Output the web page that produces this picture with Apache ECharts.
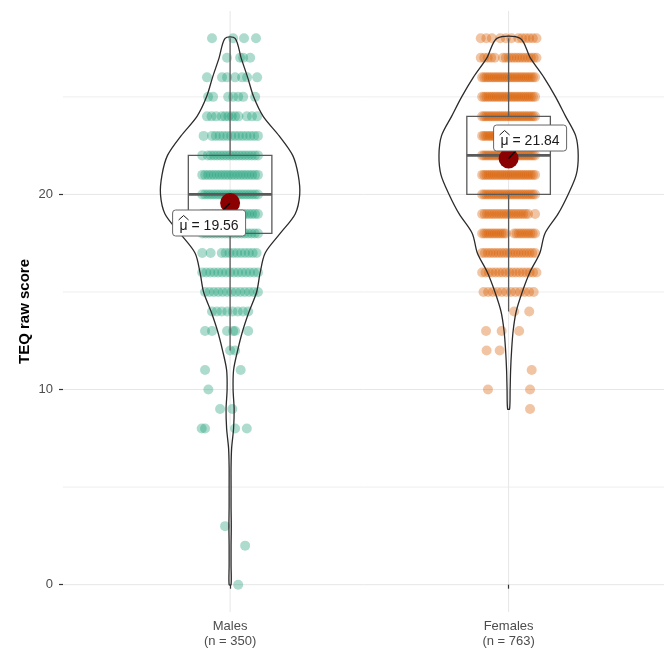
<!DOCTYPE html>
<html>
<head>
<meta charset="utf-8">
<script src="https://cdn.jsdelivr.net/npm/echarts@6/dist/echarts.min.js"></script>
<style>
  html, body { margin: 0; padding: 0; background: #fff; }
  #chart { width: 664px; height: 649px; }
</style>
</head>
<body>
<div id="chart"></div>
<script>
// groups and summary numbers
var groups = ['Males', 'Females'];
var groupN = [350, 763];
var meanValues = [19.56, 21.84];
// lower whisker, q1, median, q3, upper whisker
var boxStats = [
  [12, 18, 20, 22, 28],
  [14, 20, 22, 24, 28]
];

// violin width (relative density) at each score 0..28
var maleDensity = [0.014, 0.014, 0.014, 0.017, 0.014, 0.014, 0.014, 0.022, 0.05, 0.058,
  0.043, 0.05, 0.108, 0.18, 0.273, 0.381, 0.432, 0.504, 0.719, 0.935,
  1.0, 0.978, 0.899, 0.705, 0.475, 0.338, 0.252, 0.158, 0.072];
var femaleDensity = [null, null, null, null, null, null, null, null, null, 0.014,
  0.022, 0.029, 0.043, 0.065, 0.109, 0.196, 0.304, 0.449, 0.522, 0.71,
  0.855, 0.971, 1.0, 0.964, 0.819, 0.674, 0.507, 0.312, 0.167];

// jittered points: [score, offset | [from, to, count], ...]
var maleRows = [
  [28, -0.065, 0.011, 0.05, 0.093],
  [27, -0.011, 0.036, 0.047, 0.072],
  [26, -0.083, -0.029, -0.011, 0.018, 0.043, 0.061, 0.097],
  [25, -0.079, -0.061, -0.007, 0.011, 0.029, 0.047, 0.09],
  [24, [-0.083, -0.05, 3], [-0.03, 0.03, 6], [0.06, 0.097, 3]],
  [23, -0.095, [-0.065, 0.1, 13]],
  [22, -0.1, [-0.08, 0.1, 17]],
  [21, [-0.1, 0.1, 20]],
  [20, [-0.1, 0.1, 21]],
  [19, [-0.1, 0.1, 20]],
  [18, [-0.1, 0.1, 18]],
  [17, -0.1, -0.07, [-0.03, 0.095, 10]],
  [16, [-0.1, 0.1, 15]],
  [15, [-0.09, 0.1, 13]],
  [14, [-0.065, -0.03, 3], [-0.01, 0.065, 5]],
  [13, -0.09, -0.065, -0.011, 0.011, 0.018, 0.065],
  [12, 0, 0.018],
  [11, -0.09, 0.038],
  [10, -0.078],
  [9, -0.036, 0.008],
  [8, -0.102, -0.09, 0.018, 0.06],
  [3, -0.018],
  [2, 0.054],
  [0, 0.029]
];
var femaleRows = [
  [28, [-0.1, -0.06, 3], [-0.03, 0.01, 3], [0.035, 0.1, 6]],
  [27, [-0.1, -0.05, 5], [-0.02, 0.1, 13]],
  [26, [-0.095, 0.095, 26]],
  [25, [-0.095, 0.095, 26]],
  [24, [-0.095, 0.095, 28]],
  [23, [-0.095, 0.095, 28]],
  [22, [-0.095, 0.095, 28]],
  [21, [-0.095, 0.095, 26]],
  [20, [-0.095, 0.095, 26]],
  [19, [-0.095, 0.07, 20], 0.095],
  [18, [-0.095, -0.01, 12], [0.02, 0.095, 10]],
  [17, [-0.095, 0.095, 20]],
  [16, [-0.095, 0.1, 17]],
  [15, [-0.09, 0.09, 12]],
  [14, 0.02, 0.074],
  [13, -0.081, -0.025, 0.038],
  [12, -0.079, -0.032],
  [11, 0.083],
  [10, -0.074, 0.077],
  [9, 0.077]
];

var yTickValues = [0, 10, 20];
var yGridValues = [0, 5, 10, 15, 20, 25];

// styles
var pointColors = ['rgba(27,158,119,0.45)', 'rgba(217,95,2,0.45)'];
var violinHalf = 0.25;
var boxHalf = 0.15;
var labelNudge = [[-21, 20], [21.5, -20.5]];
var fontFam = '"Liberation Sans", Arial, sans-serif';
var labelFont = '14px ' + fontFam;

var measureCtx = document.createElement('canvas').getContext('2d');
function textWidth(str) {
  measureCtx.font = labelFont;
  return measureCtx.measureText(str).width;
}

function buildPoints(rows, pos) {
  var pts = [];
  rows.forEach(function (row) {
    var score = row[0];
    for (var i = 1; i < row.length; i++) {
      var it = row[i];
      if (Array.isArray(it)) {
        var n = it[2];
        for (var k = 0; k < n; k++) {
          var off = n === 1 ? it[0] : it[0] + (it[1] - it[0]) * k / (n - 1);
          pts.push([pos + off, score]);
        }
      } else {
        pts.push([pos + it, score]);
      }
    }
  });
  return pts;
}

var densities = [maleDensity, femaleDensity];
var chart = echarts.init(document.getElementById('chart'));

var option = {
  animation: false,
  grid: { left: 63, right: 0, top: 11, bottom: 36 },
  xAxis: {
    type: 'value',
    min: 0.4,
    max: 2.558,
    axisLine: { show: false },
    axisTick: { show: true, customValues: [1, 2], length: 4, lineStyle: { color: '#333', width: 1.2 } },
    axisLabel: {
      customValues: [1, 2],
      margin: 7,
      color: '#4d4d4d',
      fontSize: 13,
      lineHeight: 15,
      fontFamily: fontFam,
      formatter: function (v) {
        var i = Math.round(v) - 1;
        return groups[i] + '\n(n = ' + groupN[i] + ')';
      }
    },
    splitLine: { show: false }
  },
  yAxis: {
    type: 'value',
    min: -1.4,
    max: 29.4,
    name: 'TEQ raw score',
    nameLocation: 'middle',
    nameGap: 31,
    nameMoveOverlap: false,
    nameTextStyle: { color: '#000', fontSize: 15, fontWeight: 'bold', fontFamily: fontFam },
    axisLine: { show: false },
    axisTick: { show: true, customValues: yTickValues, length: 4, lineStyle: { color: '#333', width: 1.2 } },
    axisLabel: { customValues: yTickValues, margin: 10, color: '#4d4d4d', fontSize: 13, fontFamily: fontFam },
    splitLine: { show: false }
  },
  series: [
    {
      // grid lines
      type: 'custom',
      z: 0,
      silent: true,
      data: yGridValues.map(function (v) { return [0, v]; }).concat([[1, 1], [1, 2]]),
      renderItem: function (params, api) {
        var cs = params.coordSys;
        var kind = api.value(0), v = api.value(1);
        if (kind === 0) {
          var y = api.coord([1, v])[1];
          return { type: 'line', shape: { x1: cs.x, y1: y, x2: cs.x + cs.width, y2: y },
            style: { stroke: (v % 10 === 0) ? '#e6e6e6' : '#eeeeee', lineWidth: 1 } };
        }
        var x = api.coord([v, 0])[0];
        return { type: 'line', shape: { x1: x, y1: cs.y, x2: x, y2: cs.y + cs.height },
          style: { stroke: '#e6e6e6', lineWidth: 1 } };
      }
    },
    {
      type: 'scatter',
      z: 1,
      symbolSize: 10,
      itemStyle: { color: pointColors[0] },
      data: buildPoints(maleRows, 1)
    },
    {
      type: 'scatter',
      z: 1,
      symbolSize: 10,
      itemStyle: { color: pointColors[1] },
      data: buildPoints(femaleRows, 2)
    },
    {
      // boxplots
      type: 'custom',
      z: 2,
      silent: true,
      data: boxStats.map(function (b, i) { return [i + 1].concat(b); }),
      renderItem: function (params, api) {
        var x = api.value(0);
        var lo = api.value(1), q1 = api.value(2), med = api.value(3), q3 = api.value(4), hi = api.value(5);
        var pL = api.coord([x - boxHalf, q3]), pR = api.coord([x + boxHalf, q1]);
        var c = api.coord([x, med]);
        var yLo = api.coord([x, lo])[1], yHi = api.coord([x, hi])[1];
        var stroke = { stroke: '#5a5a5a', lineWidth: 1.3, fill: null };
        return {
          type: 'group',
          children: [
            { type: 'line', shape: { x1: c[0], y1: yHi, x2: c[0], y2: pL[1] }, style: stroke },
            { type: 'line', shape: { x1: c[0], y1: pR[1], x2: c[0], y2: yLo }, style: stroke },
            { type: 'rect', shape: { x: pL[0], y: pL[1], width: pR[0] - pL[0], height: pR[1] - pL[1] }, style: stroke },
            { type: 'line', shape: { x1: pL[0], y1: c[1], x2: pR[0], y2: c[1] }, style: { stroke: '#5a5a5a', lineWidth: 2.8 } }
          ]
        };
      }
    },
    {
      // violins
      type: 'custom',
      z: 3,
      silent: true,
      data: [[1, 0], [2, 1]],
      renderItem: function (params, api) {
        var x = api.value(0);
        var dens = densities[api.value(1)];
        var left = [], right = [];
        for (var s = 0; s < dens.length; s++) {
          if (dens[s] == null) continue;
          right.push(api.coord([x + violinHalf * dens[s], s]));
          left.push(api.coord([x - violinHalf * dens[s], s]));
        }
        var pts = right.concat(left.reverse());
        return {
          type: 'polygon',
          shape: { points: pts, smooth: 0.3 },
          style: { fill: null, stroke: '#2b2b2b', lineWidth: 1.3 }
        };
      }
    },
    {
      type: 'scatter',
      z: 4,
      symbolSize: 20,
      itemStyle: { color: '#8B0000', opacity: 1 },
      data: meanValues.map(function (m, i) { return [i + 1, m]; })
    },
    {
      // mean labels
      type: 'custom',
      z: 5,
      silent: true,
      data: meanValues.map(function (m, i) { return [i + 1, m, i]; }),
      renderItem: function (params, api) {
        var p = api.coord([api.value(0), api.value(1)]);
        var i = api.value(2);
        var nd = labelNudge[i];
        var w = 73, h = 26;
        var cx = p[0] + nd[0], cy = p[1] + nd[1];
        var ex = p[0] + (nd[0] > 0 ? 7 : -7);
        var ey = cy + (nd[1] > 0 ? -h / 2 : h / 2);
        var txt = '\u03BC = ' + api.value(1).toFixed(2);
        var tw = textWidth(txt);
        var muX = cx - tw / 2 + textWidth('\u03BC') / 2;
        return {
          type: 'group',
          children: [
            { type: 'line', shape: { x1: p[0], y1: p[1], x2: ex, y2: ey }, style: { stroke: '#000', lineWidth: 1.2 } },
            { type: 'rect', shape: { x: cx - w / 2, y: cy - h / 2, width: w, height: h, r: 3 },
              style: { fill: '#fff', stroke: '#666', lineWidth: 1 } },
            { type: 'text', style: { x: cx, y: cy + 3, text: txt,
              align: 'center', verticalAlign: 'middle', font: labelFont, fill: '#1a1a1a' } },
            { type: 'polyline', shape: { points: [[muX - 5, cy - 3], [muX, cy - 7.5], [muX + 5, cy - 3]] },
              style: { stroke: '#1a1a1a', lineWidth: 1, fill: null } }
          ]
        };
      }
    }
  ]
};

chart.setOption(option);
</script>
</body>
</html>
